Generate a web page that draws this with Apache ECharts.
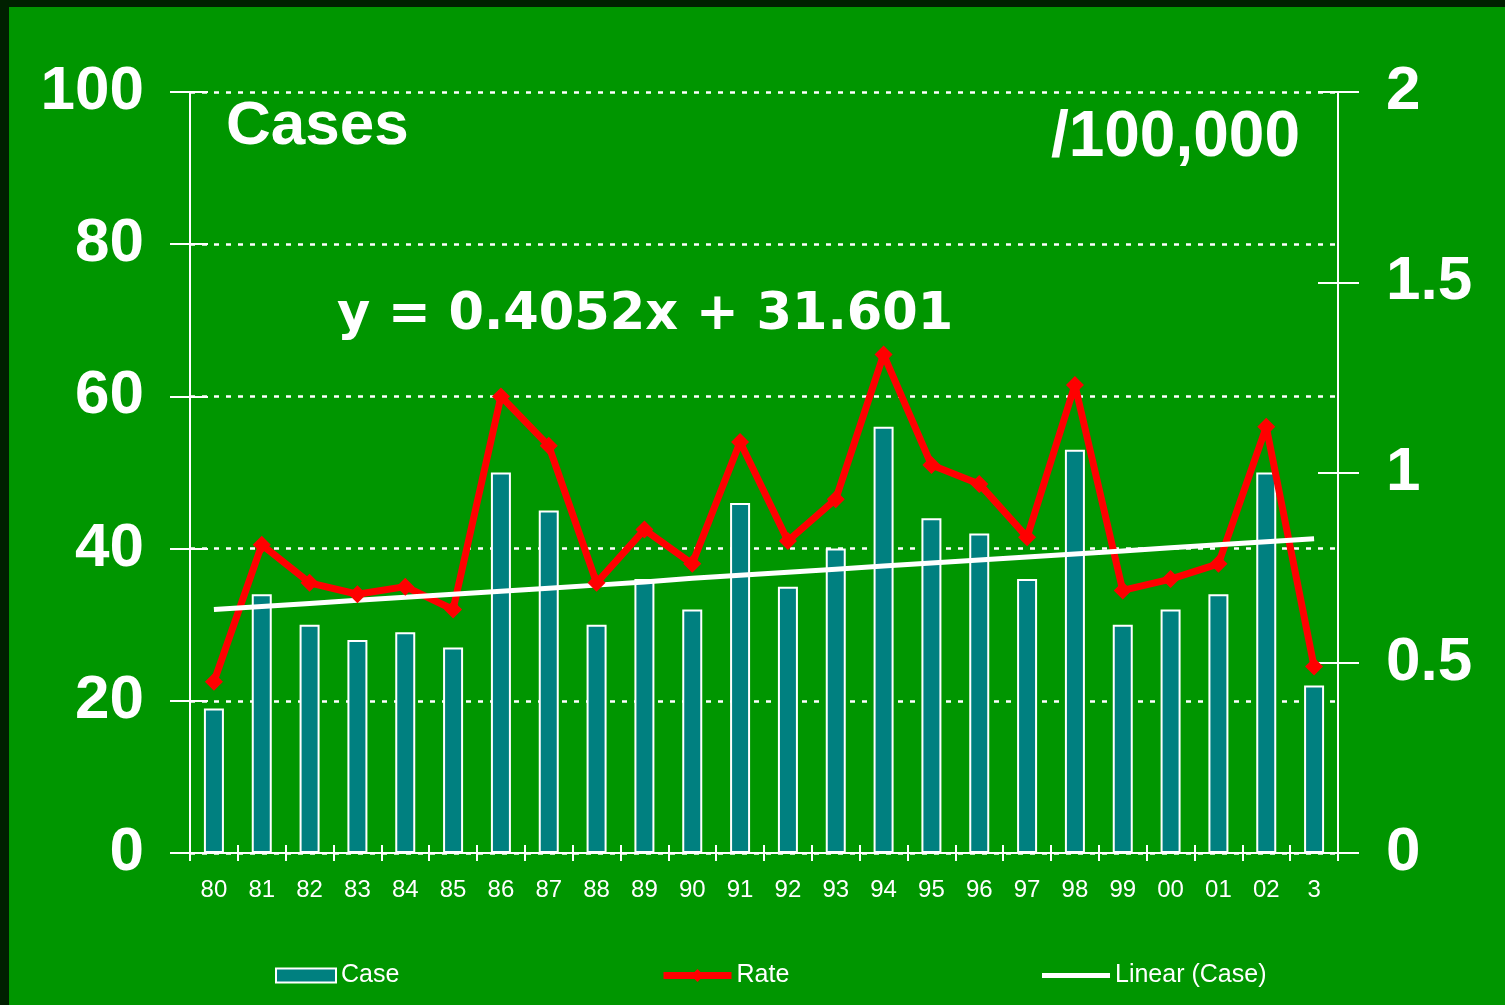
<!DOCTYPE html>
<html>
<head>
<meta charset="utf-8">
<script src="https://cdn.jsdelivr.net/npm/echarts@6/dist/echarts.min.js"></script>
<style>
  html, body { margin: 0; padding: 0; background: #002000; }
  #main { width: 1505px; height: 1005px; }
</style>
</head>
<body>
<div id="main"></div>
<script>
// years along the bottom
const years = ['80','81','82','83','84','85','86','87','88','89','90','91','92','93','94','95','96','97','98','99','00','01','02','3']
// cases per year (left axis)
const cases = [19, 34, 30, 28, 29, 27, 50, 45, 30, 36, 32, 46, 35, 40, 56, 44, 42, 36, 53, 30, 32, 34, 50, 22]
// rate /100,000 (right axis)
const rate = [0.45, 0.81, 0.71, 0.68, 0.70, 0.64, 1.20, 1.07, 0.71, 0.85, 0.76, 1.08, 0.82, 0.93, 1.31, 1.02, 0.97, 0.83, 1.23, 0.69, 0.72, 0.76, 1.12, 0.49]
// trend line
const linearCase = [32.0, 32.4, 32.8, 33.2, 33.6, 34.0, 34.4, 34.8, 35.2, 35.6, 36.1, 36.5, 36.9, 37.3, 37.7, 38.1, 38.5, 38.9, 39.3, 39.7, 40.1, 40.5, 40.9, 41.3]

const white = '#ffffff'
const bigFont = 'Liberation Sans, Arial, sans-serif'
const legendText = { color: white, fontSize: 25, fontFamily: 'Liberation Sans Narrow, Arial, sans-serif' }

const chart = echarts.init(document.getElementById('main'))

const option = {
  backgroundColor: '#009600',
  animation: false,
  graphic: [
    { type: 'rect', left: 0, top: 0, shape: { width: 9, height: 1005 }, style: { fill: '#002000' } },
    { type: 'rect', left: 0, top: 0, shape: { width: 1505, height: 7 }, style: { fill: '#002000' } },
    { type: 'text', x: 226, y: 127, style: { text: 'Cases', fill: white, fontSize: 62, fontWeight: 'bold', fontFamily: bigFont, align: 'left', verticalAlign: 'middle' } },
    { type: 'text', x: 1300, y: 138, style: { text: '/100,000', fill: white, fontSize: 64, fontWeight: 'bold', fontFamily: bigFont, align: 'right', verticalAlign: 'middle' } },
    { type: 'text', x: 337, y: 316, style: { text: 'y = 0.4052x + 31.601', fill: white, fontSize: 51, fontWeight: 'bold', fontFamily: 'DejaVu Sans, sans-serif', align: 'left', verticalAlign: 'middle' } }
  ],
  grid: { left: 190, right: 167, top: 92, bottom: 152 },
  legend: [
    { data: [{ name: 'Case', icon: 'rect' }], left: 275, top: 963, padding: 0, itemWidth: 60, itemHeight: 14, textStyle: legendText },
    { data: ['Rate'], left: 660, top: 963, padding: 0, itemWidth: 68, itemHeight: 16, lineStyle: { width: 7 }, textStyle: legendText },
    { data: [{ name: 'Linear (Case)', icon: 'rect' }], left: 1042, top: 963, padding: 0, itemWidth: 68, itemHeight: 5, textStyle: legendText }
  ],
  xAxis: [
    {
      type: 'category',
      data: years,
      axisLine: { lineStyle: { color: white, width: 2 } },
      axisTick: { show: true, length: 8, lineStyle: { color: white, width: 2 } },
      axisLabel: { color: white, fontSize: 24, fontFamily: 'Arial, sans-serif', margin: 25 }
    },
    {
      type: 'category',
      data: years,
      position: 'bottom',
      axisLine: { show: false },
      axisTick: { show: true, inside: true, length: 8, lineStyle: { color: white, width: 2 } },
      axisLabel: { show: false }
    }
  ],
  yAxis: [
    {
      type: 'value',
      min: 0, max: 100, interval: 20,
      position: 'left',
      axisLine: { show: true, lineStyle: { color: white, width: 2 } },
      axisTick: { show: true, length: 20, lineStyle: { color: white, width: 2 } },
      axisLabel: { color: white, fontSize: 62, fontWeight: 'bold', fontFamily: bigFont, margin: 46, padding: [16, 0, 0, 0] },
      splitLine: { show: true, lineStyle: { color: white, width: 2.5, type: [5, 7] } }
    },
    {
      type: 'value',
      min: 0, max: 100, interval: 20,
      position: 'left',
      axisLine: { show: false },
      axisTick: { show: true, inside: true, length: 18, lineStyle: { color: white, width: 2 } },
      axisLabel: { show: false },
      splitLine: { show: false }
    },
    {
      type: 'value',
      min: 0, max: 2, interval: 0.5,
      position: 'right',
      axisLine: { show: true, lineStyle: { color: white, width: 2 } },
      axisTick: { show: true, length: 21, lineStyle: { color: white, width: 2 } },
      axisLabel: { color: white, fontSize: 62, fontWeight: 'bold', fontFamily: bigFont, margin: 48, padding: [16, 0, 0, 0] },
      splitLine: { show: false }
    },
    {
      type: 'value',
      min: 0, max: 2, interval: 0.5,
      position: 'right',
      axisLine: { show: false },
      axisTick: { show: true, inside: true, length: 20, lineStyle: { color: white, width: 2 } },
      axisLabel: { show: false },
      splitLine: { show: false }
    }
  ],
  series: [
    {
      name: 'Case',
      type: 'bar',
      data: cases,
      barWidth: 20,
      yAxisIndex: 0,
      itemStyle: { color: '#008080', borderColor: white, borderWidth: 2 }
    },
    {
      name: 'Rate',
      type: 'line',
      data: rate,
      yAxisIndex: 2,
      symbol: 'diamond',
      symbolSize: 18,
      lineStyle: { color: '#ff0000', width: 7 },
      itemStyle: { color: '#ff0000' }
    },
    {
      name: 'Linear (Case)',
      type: 'line',
      data: linearCase,
      yAxisIndex: 0,
      symbol: 'none',
      lineStyle: { color: white, width: 5 },
      itemStyle: { color: white }
    }
  ]
}

chart.setOption(option)
</script>
</body>
</html>
